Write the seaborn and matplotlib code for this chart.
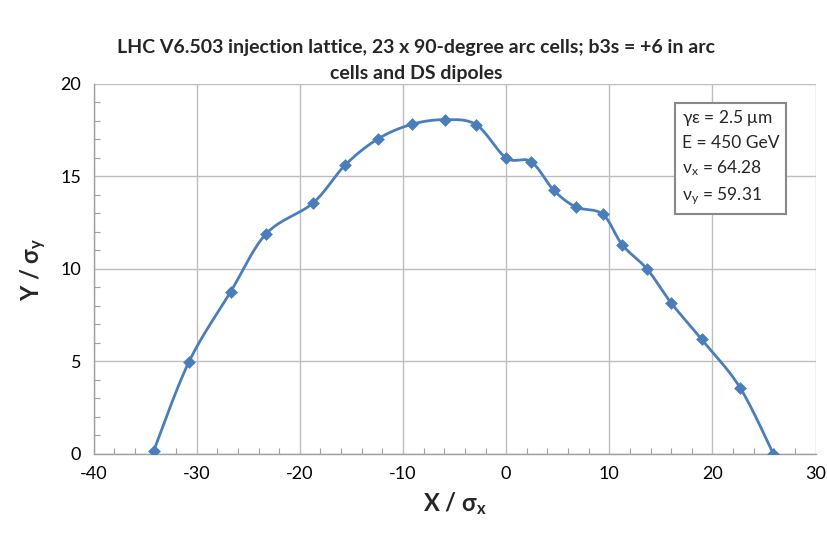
import numpy as np
import pandas as pd
import matplotlib
matplotlib.use("Agg")
import matplotlib.pyplot as plt
import seaborn as sns
from matplotlib.ticker import MultipleLocator

# ---- data ----
x_sigma = [-34.18, -30.75, -26.71, -23.26, -18.73, -15.60, -12.43, -9.14, -5.91, -2.88,
           0.00, 2.42, 4.62, 6.75, 9.37, 11.27, 13.69, 15.99, 18.96, 22.67, 25.90]
y_sigma = [0.14, 4.97, 8.76, 11.90, 13.56, 15.62, 17.03, 17.82, 18.07, 17.79,
           16.00, 15.80, 14.25, 13.35, 12.95, 11.29, 9.97, 8.16, 6.18, 3.58, 0.00]
title = "LHC V6.503 injection lattice, 23 x 90-degree arc cells; b3s = +6 in arc\ncells and DS dipoles"
info_lines = [r"$\mathregular{\gamma\epsilon}$ = 2.5 $\mathregular{\mu}$m",
              "E = 450 GeV",
              r"$\mathregular{\nu_x}$ = 64.28",
              r"$\mathregular{\nu_y}$ = 59.31"]
x_ticks = [-40, -30, -20, -10, 0, 10, 20, 30]
y_ticks = [0, 5, 10, 15, 20]

sns.set_style("white")
plt.rcParams["font.family"] = ["Lato", "DejaVu Sans"]
plt.rcParams["mathtext.fontset"] = "custom"
plt.rcParams["mathtext.rm"] = "DejaVu Sans"
plt.rcParams["mathtext.it"] = "DejaVu Sans"
plt.rcParams["axes.unicode_minus"] = False

df = pd.DataFrame({"x": x_sigma, "y": y_sigma})

# Excel-like smoothing (Catmull-Rom Bezier) computed from the data
def smooth(xs, ys, n=30):
    P = np.column_stack([xs, ys])
    P = np.vstack([P[0], P, P[-1]])
    out = []
    for i in range(1, len(P) - 2):
        p0, p1, p2, p3 = P[i - 1], P[i], P[i + 1], P[i + 2]
        c1 = p1 + (p2 - p0) / 6.0
        c2 = p2 - (p3 - p1) / 6.0
        t = np.linspace(0, 1, n)[:, None]
        seg = ((1 - t) ** 3) * p1 + 3 * ((1 - t) ** 2) * t * c1 + 3 * (1 - t) * t ** 2 * c2 + t ** 3 * p2
        out.append(seg if i == 1 else seg[1:])
    S = np.vstack(out)
    return S[:, 0], S[:, 1]

sx, sy = smooth(x_sigma, y_sigma)
curve = pd.DataFrame({"x": sx, "y": sy})

fig = plt.figure(figsize=(8.28, 5.35), dpi=100)
ax = fig.add_axes([0.113, 0.152, 0.872, 0.691])

color = "#4A7EBB"
sns.lineplot(data=curve, x="x", y="y", sort=False, estimator=None, color=color, lw=2, ax=ax)
sns.scatterplot(data=df, x="x", y="y", marker="D", s=36, color=color, edgecolor=color, ax=ax, zorder=3)

ax.set_xlim(-40, 30)
ax.set_ylim(0, 20)
ax.set_xticks(x_ticks)
ax.set_yticks(y_ticks)
ax.xaxis.set_minor_locator(MultipleLocator(2))
ax.yaxis.set_minor_locator(MultipleLocator(1))
ax.grid(True, which="major", color="#BEBEBE", lw=1)
ax.tick_params(which="major", length=0, labelsize=13, colors="#000000", pad=9)
ax.tick_params(which="minor", direction="in", length=4, color="#A0A0A0", width=0.8)
ax.tick_params(axis="x", which="minor", bottom=True)
ax.tick_params(axis="y", which="minor", left=True)
for s in ["top", "right"]:
    ax.spines[s].set_visible(False)
for s in ["left", "bottom"]:
    ax.spines[s].set_color("#A0A0A0")
    ax.spines[s].set_linewidth(1)

ax.set_xlabel(r"X / $\mathregular{\sigma_x}$", fontsize=17, fontweight="bold", labelpad=6)
ax.set_ylabel(r"Y / $\mathregular{\sigma_y}$", fontsize=17, fontweight="bold", labelpad=8)
fig.text(0.503, 0.887, title, ha="center", va="center", fontsize=14, fontweight="bold", linespacing=1.6)

ax.text(0.815, 0.935, "\n".join(info_lines), transform=ax.transAxes, ha="left", va="top",
        fontsize=12.5, linespacing=1.5,
        bbox=dict(boxstyle="square,pad=0.4", fc="white", ec="#888888", lw=1.5))

fig.savefig("out.png", dpi=100)
